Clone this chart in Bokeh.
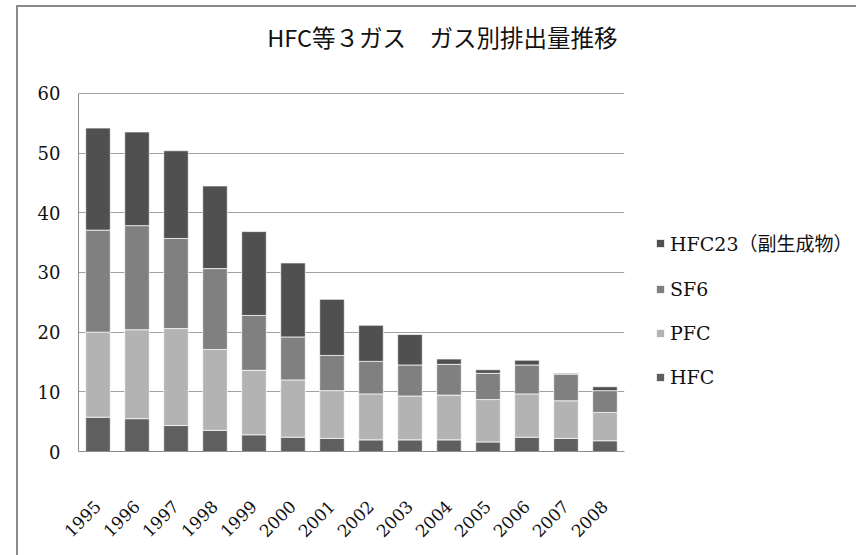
from bokeh.plotting import figure
from bokeh.layouts import row
from bokeh.models import (FactorRange, Range1d, Legend, LegendItem, Label,
                          FixedTicker, InlineStyleSheet)
from bokeh.embed import file_html
from bokeh.resources import INLINE
import math

# Emissions by gas (million t-CO2 eq.)
years = ["1995", "1996", "1997", "1998", "1999", "2000", "2001",
         "2002", "2003", "2004", "2005", "2006", "2007", "2008"]
hfc = [5.75, 5.5, 4.35, 3.55, 2.8, 2.4, 2.2, 1.95, 1.95, 1.95, 1.6, 2.4, 2.2, 1.8]
pfc = [14.25, 14.9, 16.25, 13.55, 10.8, 9.6, 8.0, 7.7, 7.35, 7.5, 7.1, 7.25, 6.3, 4.75]
sf6 = [17.1, 17.45, 15.1, 13.55, 9.2, 7.2, 5.9, 5.45, 5.2, 5.15, 4.4, 4.85, 4.45, 3.65]
hfc23 = [17.1, 15.7, 14.7, 13.85, 14.05, 12.4, 9.4, 6.05, 5.1, 0.9, 0.6, 0.8, 0.15, 0.65]

series_keys = ["hfc", "pfc", "sf6", "hfc23"]
series_labels = ["HFC", "PFC", "SF6", "HFC23（副生成物）"]
series_colors = ["#5f5f5f", "#b3b3b3", "#808080", "#505050"]
y_ticks = [0, 10, 20, 30, 40, 50, 60]
title_text = "HFC等３ガス　ガス別排出量推移"

SERIF = "'DejaVu Serif', 'Noto Sans CJK JP'"
BORDER = "2px solid #8a8a8a"

source = dict(years=years, hfc=hfc, pfc=pfc, sf6=sf6, hfc23=hfc23)


def edge_css(left_px, sides):
    rules = "; ".join(f"border-{s}: {BORDER}" for s in sides)
    return InlineStyleSheet(css=f"""
:host {{ position: relative; }}
:host::after {{
  content: ""; position: absolute; left: {left_px}px; top: 5px; right: 0; bottom: 0;
  {rules}; pointer-events: none;
}}
""")


# ---- main chart ----
# the frame reaches up to the title; the value axis itself stops at 60
p = figure(width=640, height=555, output_backend="svg", toolbar_location=None,
           x_range=FactorRange(*years, range_padding=0), y_range=Range1d(0, 73.9),
           min_border_left=78, min_border_right=16,
           min_border_top=10, min_border_bottom=104,
           stylesheets=[edge_css(16, ["left", "top"])])

renderers = p.vbar_stack(series_keys, x="years", width=0.63, source=source,
                         color=series_colors, line_color="white", line_alpha=0.7,
                         line_width=1)

p.outline_line_color = None
p.xgrid.grid_line_color = None
p.ygrid.ticker = FixedTicker(ticks=y_ticks)
p.ygrid.grid_line_color = "#a0a0a0"
p.ygrid.grid_line_width = 1

p.yaxis.ticker = FixedTicker(ticks=y_ticks)
p.yaxis.bounds = (0, 60)
p.yaxis.axis_line_color = "#8c8c8c"
p.yaxis.major_tick_line_color = None
p.yaxis.minor_tick_line_color = None
p.yaxis.major_tick_out = 0
p.yaxis.major_label_standoff = 18
p.yaxis.major_label_text_font = SERIF
p.yaxis.major_label_text_font_size = "18px"
p.yaxis.major_label_text_color = "#111111"

p.xaxis.axis_line_color = "#8c8c8c"
p.xaxis.major_tick_line_color = None
p.xaxis.minor_tick_line_color = None
p.xaxis.major_label_orientation = math.pi / 4
p.xaxis.major_label_standoff = 46
p.xaxis.major_label_text_font = SERIF
p.xaxis.major_label_text_font_size = "17px"
p.xaxis.major_label_text_color = "#111111"

# chart title
p.add_layout(Label(x=9.33, y=69.45, text=title_text, text_align="center",
                   text_baseline="middle", text_font="Noto Sans CJK JP",
                   text_font_size="23.5px", text_color="#111111"))

# ---- legend strip on the right ----
lg = figure(width=216, height=555, output_backend="svg", toolbar_location=None,
            x_range=Range1d(0, 1), y_range=Range1d(0, 1),
            min_border=0, min_border_left=0, min_border_right=0,
            min_border_top=0, min_border_bottom=0,
            stylesheets=[edge_css(0, ["top"])])
lg.outline_line_color = None
lg.axis.visible = False
lg.grid.visible = False
key_renderers = lg.vbar_stack(series_keys, x=0, width=0.5, source=source,
                              color=series_colors, line_color="white",
                              line_alpha=0.7, line_width=1, visible=False)

items = [LegendItem(label=lab, renderers=[r])
         for lab, r in zip(series_labels, key_renderers)][::-1]
legend = Legend(items=items, location=(15, 63), glyph_width=10, glyph_height=10,
                label_standoff=5, spacing=22, label_height=20, padding=0, margin=0,
                border_line_alpha=0, background_fill_alpha=0,
                label_text_font=SERIF, label_text_font_size="19px",
                label_text_color="#111111")
lg.add_layout(legend, "center")

layout = row(p, lg, spacing=0)
open("out.html", "w").write(file_html(layout, INLINE))
